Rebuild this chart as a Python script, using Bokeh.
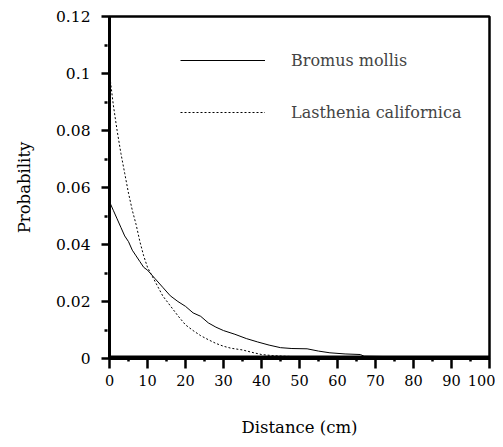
from bokeh.plotting import figure
from bokeh.models import Range1d, FixedTicker, Legend, LegendItem
from bokeh.embed import file_html
from bokeh.resources import INLINE

# Data
bromus_x = [0, 1, 2, 3, 4, 5, 6, 7, 8, 9, 10, 12, 14, 16, 18, 20, 22, 24, 26, 28, 30,
            33, 36, 39, 42, 45, 48, 52, 55, 58, 62, 66, 67, 72, 80, 90, 100]
bromus_y = [0.055, 0.052, 0.049, 0.046, 0.043, 0.041, 0.038, 0.036, 0.034, 0.032, 0.031,
            0.028, 0.025, 0.022, 0.020, 0.0183, 0.016, 0.0148, 0.0125, 0.011, 0.0098,
            0.0085, 0.007, 0.0058, 0.0047, 0.0038, 0.0035, 0.0034, 0.0026, 0.002, 0.0016,
            0.0014, 0.0008, 0.0007, 0.0006, 0.0005, 0.0004]

lasth_x = [0, 1, 2, 3, 4, 5, 6, 7, 8, 9, 10, 12, 14, 16, 18, 20, 22, 24, 26, 28, 30,
           32, 35, 38, 40, 43, 46, 50, 60, 100]
lasth_y = [0.100, 0.089, 0.080, 0.072, 0.065, 0.058, 0.052, 0.047, 0.041, 0.036, 0.032,
           0.027, 0.022, 0.0185, 0.015, 0.0118, 0.0098, 0.008, 0.0066, 0.0053, 0.0043,
           0.0036, 0.003, 0.002, 0.0014, 0.001, 0.0008, 0.0006, 0.0004, 0.0003]

base_x = [0, 100]
base_y = [0.0007, 0.0007]

x_ticks = [0, 10, 20, 30, 40, 50, 60, 70, 80, 90, 100]
x_minor = [5, 15, 25, 35, 45, 55, 65, 75, 85, 95]
y_ticks = [0, 0.02, 0.04, 0.06, 0.08, 0.1, 0.12]
y_minor = [0.01, 0.03, 0.05, 0.07, 0.09, 0.11]
y_tick_labels = {0: "0", 0.02: "0.02", 0.04: "0.04", 0.06: "0.06", 0.08: "0.08", 0.1: "0.1", 0.12: "0.12"}

FONT = "DejaVu Serif"

p = figure(width=495, height=439, output_backend="svg", toolbar_location=None,
           x_range=Range1d(0, 100), y_range=Range1d(0, 0.12),
           min_border_left=109, min_border_right=6, min_border_top=16, min_border_bottom=80)
p.grid.visible = False
p.outline_line_color = "black"
p.outline_line_width = 2.5

for ax in (p.xaxis[0], p.yaxis[0]):
    ax.axis_line_width = 3
    ax.axis_line_color = "black"
    ax.major_tick_line_width = 2.5
    ax.minor_tick_line_width = 2.5
    ax.major_tick_in = 0
    ax.major_label_text_font = FONT
    ax.major_label_text_color = "black"
    ax.axis_label_text_font = FONT
    ax.axis_label_text_font_size = "16.5px"
    ax.axis_label_text_font_style = "normal"
    ax.axis_label_text_color = "black"

p.xaxis.ticker = FixedTicker(ticks=x_ticks, minor_ticks=x_minor)
p.xaxis.major_label_text_font_size = "14.5px"
p.xaxis.major_tick_out = 10
p.xaxis.minor_tick_in = 0
p.xaxis.minor_tick_out = 3
p.xaxis.major_label_standoff = 6
p.xaxis.axis_label = "Distance (cm)"
p.xaxis.axis_label_standoff = 29

p.yaxis.ticker = FixedTicker(ticks=y_ticks, minor_ticks=y_minor)
p.yaxis.major_label_overrides = y_tick_labels
p.yaxis.major_label_text_font_size = "15.5px"
p.yaxis.major_tick_out = 8
p.yaxis.minor_tick_in = -2
p.yaxis.minor_tick_out = 5
p.yaxis.major_label_standoff = 11
p.yaxis.axis_label = "Probability"
p.yaxis.axis_label_standoff = 19

p.line(base_x, base_y, line_color="black", line_width=2)
r_b = p.line(bromus_x, bromus_y, line_color="black", line_width=1)
r_l = p.line(lasth_x, lasth_y, line_color="black", line_width=1, line_dash="2 2")

legend = Legend(items=[LegendItem(label="Bromus mollis", renderers=[r_b]),
                       LegendItem(label="Lasthenia californica", renderers=[r_l])],
                location=(71, 236), glyph_width=85, glyph_height=20, label_height=20,
                label_standoff=26, spacing=32, padding=0, margin=0,
                border_line_color=None, background_fill_alpha=0,
                label_text_font=FONT, label_text_font_size="16px")
p.add_layout(legend, "center")

open("out.html", "w").write(file_html(p, INLINE))
